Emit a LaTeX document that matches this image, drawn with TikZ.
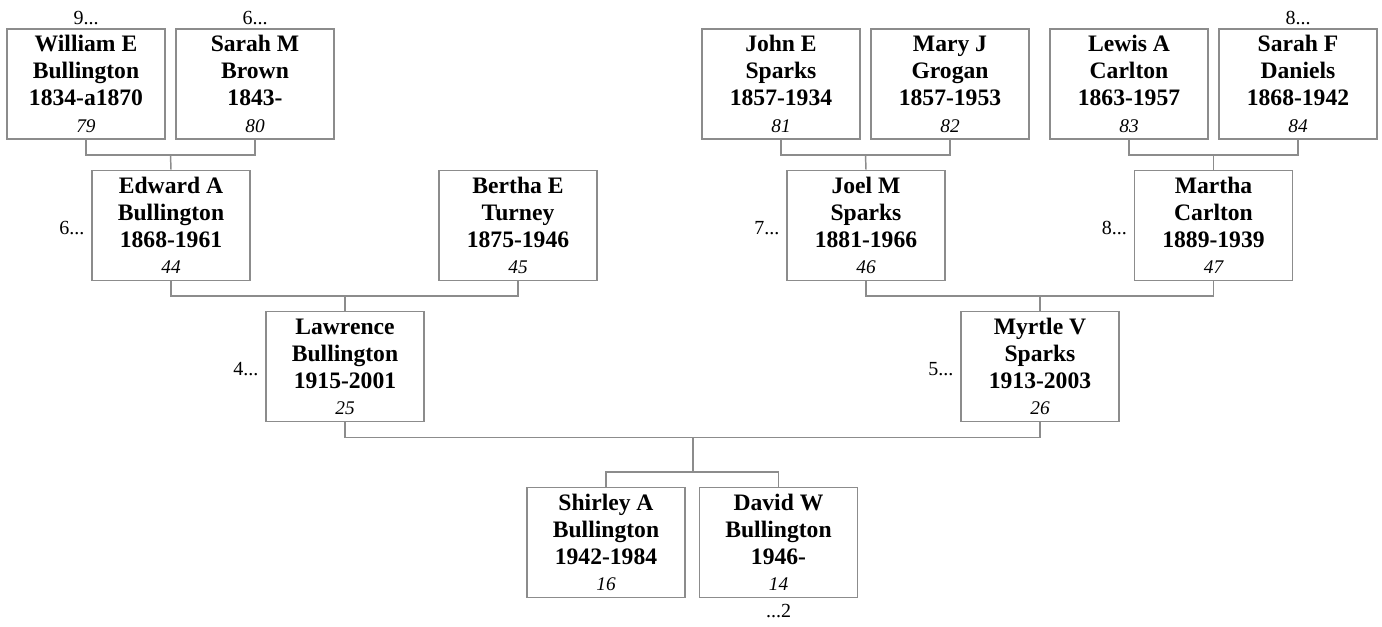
\documentclass[tikz,border=0pt]{standalone}
\usepackage{fontspec}
\setmainfont{Liberation Serif}
\begin{document}
\begin{tikzpicture}[x=0.75pt,y=-0.75pt,
  person/.style={draw=linegray, line width=1.1pt, fill=white, rectangle,
    minimum width=158*0.75pt, minimum height=109*0.75pt, inner sep=0pt,
    align=center, font=\fontsize{17.7}{20.3}\selectfont\bfseries},
  conn/.style={draw=linegray, line width=1.1pt},
  more/.style={font=\fontsize{15}{18}\selectfont, inner sep=0pt}]
\definecolor{linegray}{RGB}{140,140,140}
\useasboundingbox (0,0) rectangle (1382,626);
\newcommand{\pers}[4]{\rule{0pt}{17.2pt}#1\\\strut #2\\\strut #3\\[-0.5pt]{\fontsize{14.5}{17}\selectfont\mdseries\itshape\strut #4}}
% row 1
\node[person] (william) at (86,84) {\pers{William E}{Bullington}{1834-a1870}{79}};
\node[person] (sarahm) at (255,84) {\pers{Sarah M}{Brown}{1843-}{80}};
\node[person] (john) at (781,84) {\pers{John E}{Sparks}{1857-1934}{81}};
\node[person] (mary) at (950,84) {\pers{Mary J}{Grogan}{1857-1953}{82}};
\node[person] (lewis) at (1129,84) {\pers{Lewis A}{Carlton}{1863-1957}{83}};
\node[person] (sarahf) at (1298,84) {\pers{Sarah F}{Daniels}{1868-1942}{84}};
% row 2
\node[person] (edward) at (171,225.5) {\pers{Edward A}{Bullington}{1868-1961}{44}};
\node[person] (bertha) at (518,225.5) {\pers{Bertha E}{Turney}{1875-1946}{45}};
\node[person] (joel) at (866,225.5) {\pers{Joel M}{Sparks}{1881-1966}{46}};
\node[person] (martha) at (1213.5,225.5) {\pers{Martha}{Carlton}{1889-1939}{47}};
% row 3
\node[person] (lawrence) at (345,366.5) {\pers{Lawrence}{Bullington}{1915-2001}{25}};
\node[person] (myrtle) at (1040,366.5) {\pers{Myrtle V}{Sparks}{1913-2003}{26}};
% row 4
\node[person] (shirley) at (606,542.5) {\pers{Shirley A}{Bullington}{1942-1984}{16}};
\node[person] (david) at (778.5,542.5) {\pers{David W}{Bullington}{1946-}{14}};
% continuation labels
\node[more, anchor=base] (m1) at ([yshift=3pt]william.north) {9...};
\node[more, anchor=base] (m2) at ([yshift=3pt]sarahm.north) {6...};
\node[more, anchor=base] (m3) at ([yshift=3pt]sarahf.north) {8...};
\node[more, anchor=east] (m4) at ([xshift=-5pt,yshift=-2pt]edward.west) {6...};
\node[more, anchor=east] (m5) at ([xshift=-5pt,yshift=-2pt]joel.west) {7...};
\node[more, anchor=east] (m6) at ([xshift=-5pt,yshift=-2pt]martha.west) {8...};
\node[more, anchor=east] (m7) at ([xshift=-5pt,yshift=-2pt]lawrence.west) {4...};
\node[more, anchor=east] (m8) at ([xshift=-5pt,yshift=-2pt]myrtle.west) {5...};
\node[more, anchor=north] (m9) at ([yshift=-4pt]david.south) {...2};
% connectors
\coordinate (c1) at (170.5,155);
\draw[conn] (william.south) |- (c1) -| (sarahm.south);
\draw[conn] (c1) -- (edward.north);
\coordinate (c2) at (865.5,155);
\draw[conn] (john.south) |- (c2) -| (mary.south);
\draw[conn] (c2) -- (joel.north);
\coordinate (c3) at (1213.5,155);
\draw[conn] (lewis.south) |- (c3) -| (sarahf.south);
\draw[conn] (c3) -- (martha.north);
\coordinate (c4) at (345,296);
\draw[conn] (edward.south) |- (c4) -| (bertha.south);
\draw[conn] (c4) -- (lawrence.north);
\coordinate (c5) at (1040,296);
\draw[conn] (joel.south) |- (c5) -| (martha.south);
\draw[conn] (c5) -- (myrtle.north);
\coordinate (c6) at (693,437.5);
\coordinate (c7) at (693,472);
\draw[conn] (lawrence.south) |- (c6) -| (myrtle.south);
\draw[conn] (c6) -- (c7);
\draw[conn] (shirley.north) |- (c7) -| (david.north);
\end{tikzpicture}
\end{document}
